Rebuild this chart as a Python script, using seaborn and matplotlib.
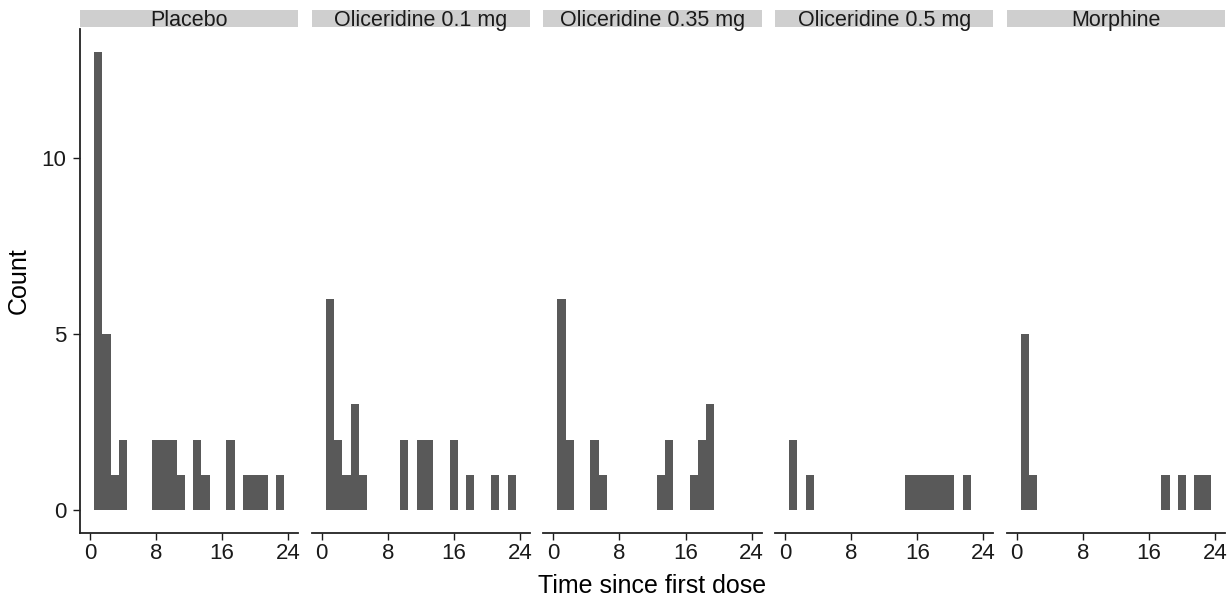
import pandas as pd
import matplotlib
matplotlib.use('Agg')
import matplotlib.pyplot as plt
import seaborn as sns
from matplotlib.patches import Rectangle

# Counts per 1-hour bin (bins centred on hour 1..23)
hours = list(range(1, 24))
placebo = [13, 5, 1, 2, 0, 0, 0, 2, 2, 2, 1, 0, 2, 1, 0, 0, 2, 0, 1, 1, 1, 0, 1]
olic_01 = [6, 2, 1, 3, 1, 0, 0, 0, 0, 2, 0, 2, 2, 0, 0, 2, 0, 1, 0, 0, 1, 0, 1]
olic_035 = [6, 2, 0, 0, 2, 1, 0, 0, 0, 0, 0, 0, 1, 2, 0, 0, 1, 2, 3, 0, 0, 0, 0]
olic_05 = [2, 0, 1, 0, 0, 0, 0, 0, 0, 0, 0, 0, 0, 0, 1, 1, 1, 1, 1, 1, 0, 1, 0]
morphine = [5, 1, 0, 0, 0, 0, 0, 0, 0, 0, 0, 0, 0, 0, 0, 0, 0, 1, 0, 1, 0, 1, 1]

groups = ['Placebo', 'Oliceridine 0.1 mg', 'Oliceridine 0.35 mg',
          'Oliceridine 0.5 mg', 'Morphine']
series = [placebo, olic_01, olic_035, olic_05, morphine]
x_ticks = [0, 8, 16, 24]
y_ticks = [0, 5, 10]

rows = []
for grp, vals in zip(groups, series):
    for h, c in zip(hours, vals):
        if c > 0:
            rows.append({'group': grp, 'time': h, 'count': c})
df = pd.DataFrame(rows)

sns.set_theme(style='ticks')
plt.rcParams['font.family'] = ['Liberation Sans', 'DejaVu Sans']

bar_color = '#595959'
g = sns.FacetGrid(df, col='group', col_order=groups, sharex=True, sharey=True,
                  height=6, aspect=0.4, despine=True)
g.map_dataframe(sns.histplot, x='time', weights='count', discrete=True,
                color=bar_color, alpha=1, linewidth=0)
g.set_titles('')
g.set_axis_labels('', '')

fig = g.figure
fig.set_size_inches(12.32, 6.03)
fig.subplots_adjust(left=0.0649, right=0.9943, top=0.9519, bottom=0.1161,
                    wspace=0.062)

for i, (ax, name) in enumerate(zip(g.axes.flat, groups)):
    ax.set_xlim(-1.2, 25.2)
    ax.set_ylim(-0.65, 13.65)
    ax.set_xticks(x_ticks)
    ax.set_xticklabels([str(t) for t in x_ticks])
    ax.tick_params(axis='x', length=5, width=1, pad=2.5, labelsize=16,
                   colors='#1a1a1a')
    ax.spines['bottom'].set_linewidth(1.3)
    ax.spines['bottom'].set_color('#222222')
    if i == 0:
        ax.set_yticks(y_ticks)
        ax.set_yticklabels([str(t) for t in y_ticks])
        ax.tick_params(axis='y', length=5, width=1, pad=5, labelsize=16,
                       colors='#1a1a1a')
        ax.spines['left'].set_linewidth(1.3)
        ax.spines['left'].set_color('#222222')
    else:
        ax.spines['left'].set_visible(False)
        ax.tick_params(axis='y', left=False, labelleft=False)

    # facet strip, label sits low and gets clipped like the original
    strip = Rectangle((0, 1.004), 1, 0.034, transform=ax.transAxes,
                      facecolor='#CFCFCF', edgecolor='none', clip_on=False)
    ax.add_patch(strip)
    txt = ax.text(0.5, 1.005, name, transform=ax.transAxes, ha='center',
                  va='baseline', fontsize=15.5, color='#1a1a1a')
    txt.set_clip_path(strip)

fig.text(19 / 1232, 1 - 281 / 603, 'Count', rotation=90, ha='center',
         va='center', fontsize=18, color='black')
fig.text(652 / 1232, 1 - 593 / 603, 'Time since first dose', ha='center',
         va='baseline', fontsize=18, color='black')

fig.savefig('out.png', dpi=100, facecolor='white')
